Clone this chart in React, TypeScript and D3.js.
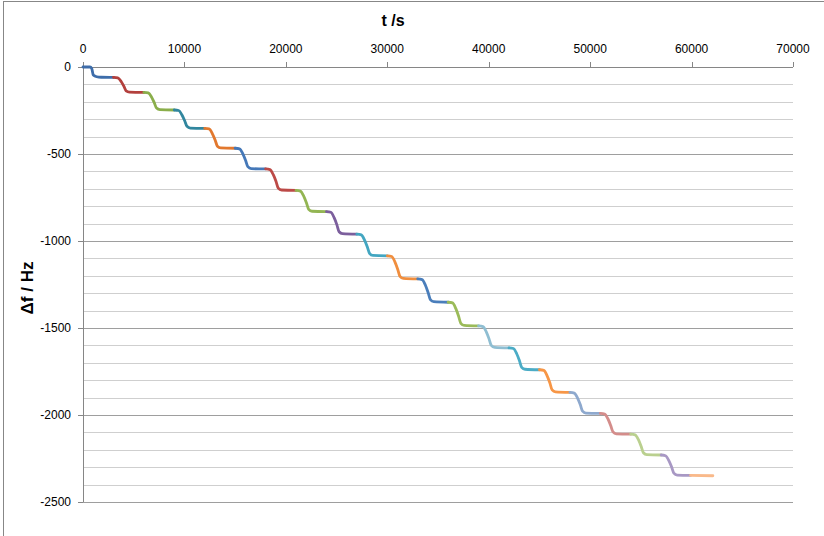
import React from 'react';
import * as d3 from 'd3';

// t (s), Δf (Hz)
const seg01: [number, number][] = [[0, 0], [690, 0], [860, -8], [1015, -46], [1350, -56], [1800, -59], [3000, -60]];
const seg02: [number, number][] = [[3000, -60], [3430, -63], [3760, -83], [4025, -110], [4250, -137], [4580, -144], [6000, -146]];
const seg03: [number, number][] = [[6000, -146], [6430, -149], [6760, -173], [7025, -205], [7250, -236], [7580, -245], [9000, -247]];
const seg04: [number, number][] = [[9000, -247], [9430, -250], [9760, -276], [10025, -309], [10250, -341], [10580, -351], [12000, -353]];
const seg05: [number, number][] = [[12000, -353], [12430, -356], [12760, -384], [13025, -419], [13250, -455], [13580, -465], [15000, -467]];
const seg06: [number, number][] = [[15000, -467], [15430, -471], [15760, -499], [16025, -536], [16250, -573], [16580, -584], [18000, -586]];
const seg07: [number, number][] = [[18000, -586], [18430, -590], [18760, -619], [19025, -657], [19250, -696], [19580, -707], [21000, -709]];
const seg08: [number, number][] = [[21000, -709], [21430, -713], [21760, -742], [22025, -780], [22250, -818], [22580, -829], [24000, -831]];
const seg09: [number, number][] = [[24000, -831], [24430, -835], [24760, -866], [25025, -906], [25250, -947], [25580, -958], [27000, -961]];
const seg10: [number, number][] = [[27000, -961], [27430, -965], [27760, -995], [28025, -1033], [28250, -1071], [28580, -1083], [30000, -1085]];
const seg11: [number, number][] = [[30000, -1085], [30430, -1089], [30760, -1121], [31025, -1162], [31250, -1203], [31580, -1215], [33000, -1218]];
const seg12: [number, number][] = [[33000, -1218], [33430, -1222], [33760, -1254], [34025, -1296], [34250, -1337], [34580, -1349], [36000, -1352]];
const seg13: [number, number][] = [[36000, -1352], [36430, -1356], [36760, -1389], [37025, -1431], [37250, -1473], [37580, -1485], [39000, -1488]];
const seg14: [number, number][] = [[39000, -1488], [39430, -1492], [39760, -1522], [40025, -1561], [40250, -1600], [40580, -1611], [42000, -1614]];
const seg15: [number, number][] = [[42000, -1614], [42430, -1618], [42760, -1648], [43025, -1687], [43250, -1726], [43580, -1737], [45000, -1740]];
const seg16: [number, number][] = [[45000, -1740], [45430, -1744], [45760, -1775], [46025, -1815], [46250, -1856], [46580, -1867], [48000, -1870]];
const seg17: [number, number][] = [[48000, -1870], [48430, -1874], [48760, -1903], [49025, -1940], [49250, -1978], [49580, -1989], [51000, -1991]];
const seg18: [number, number][] = [[51000, -1991], [51430, -1995], [51760, -2023], [52025, -2060], [52250, -2097], [52580, -2108], [54000, -2110]];
const seg19: [number, number][] = [[54000, -2110], [54430, -2114], [54760, -2142], [55025, -2180], [55250, -2217], [55580, -2228], [57000, -2230]];
const seg20: [number, number][] = [[57000, -2230], [57430, -2234], [57760, -2262], [58025, -2298], [58250, -2334], [58580, -2345], [59900, -2347]];
const seg21: [number, number][] = [[59900, -2347], [62100, -2349]];

const segments = [seg01, seg02, seg03, seg04, seg05, seg06, seg07, seg08, seg09, seg10, seg11, seg12, seg13, seg14, seg15, seg16, seg17, seg18, seg19, seg20, seg21];

const segColors = [
  '#3E6DAA', '#B3403D', '#8AAE4B', '#31869E', '#E2782E',
  '#4578B8', '#BC4A47', '#93B553', '#7C5F9D', '#43A6C1',
  '#F08E3E', '#4A7EBB', '#9BBB59', '#8FBED2', '#4BACC6',
  '#F79646', '#8EA9CE', '#D48D8B', '#BAD08F', '#A898C4', '#F9B98A',
];

const xTicks = [0, 10000, 20000, 30000, 40000, 50000, 60000, 70000];
const yTicks = [0, -500, -1000, -1500, -2000, -2500];
const xTitle = 't /s';
const yTitle = 'Δf / Hz';

const W = 824;
const H = 536;
const left = 83;
const right = 793;
const top = 67;
const bottom = 502;

export default function App() {
  const x = d3.scaleLinear().domain([0, 70000]).range([left, right]);
  const y = d3.scaleLinear().domain([0, -2500]).range([top, bottom]);
  const grid = y.ticks(25);
  const line = d3
    .line<[number, number]>()
    .x((d) => x(d[0]))
    .y((d) => y(d[1]))
    .curve(d3.curveMonotoneX);
  const font = "'Liberation Sans', Arial, sans-serif";

  return (
    <svg
      width={W}
      height={H}
      style={{ position: 'absolute', left: 0, top: 0, background: '#fff' }}
      fontFamily={font}
    >
      <rect x={0} y={0} width={W} height={H} fill="#fff" />
      <rect x={3.5} y={1.5} width={W + 10} height={H + 10} fill="none" stroke="#878787" strokeWidth={1} />

      {grid.map((g) => (
        <line
          key={g}
          x1={left}
          x2={right}
          y1={Math.round(y(g)) + 0.5}
          y2={Math.round(y(g)) + 0.5}
          stroke={g % 500 === 0 ? '#9E9E9E' : '#CFCFCF'}
          strokeWidth={1}
        />
      ))}

      {/* top axis */}
      <line x1={left} x2={right} y1={top + 0.5} y2={top + 0.5} stroke="#868686" />
      {xTicks.map((t) => (
        <g key={t}>
          <line x1={Math.round(x(t)) + 0.5} x2={Math.round(x(t)) + 0.5} y1={top - 5} y2={top} stroke="#868686" />
          <text x={x(t)} y={53} textAnchor="middle" fontSize={12} fill="#000">
            {t}
          </text>
        </g>
      ))}

      {/* left axis */}
      <line x1={left + 0.5} x2={left + 0.5} y1={top} y2={bottom} stroke="#868686" />
      {yTicks.map((v) => (
        <g key={v}>
          <line x1={left - 5} x2={left} y1={Math.round(y(v)) + 0.5} y2={Math.round(y(v)) + 0.5} stroke="#868686" />
          <text x={71} y={y(v)} dy="0.35em" textAnchor="end" fontSize={12} fill="#000">
            {v}
          </text>
        </g>
      ))}

      {segments.map((s, i) => (
        <path
          key={i}
          d={line(s) || ''}
          fill="none"
          stroke={segColors[i]}
          strokeWidth={2.8}
          strokeLinejoin="round"
          strokeLinecap="round"
        />
      ))}

      <text x={393} y={26} textAnchor="middle" fontSize={16} fontWeight="bold" fill="#000">
        {xTitle}
      </text>
      <text
        transform={`translate(33, 288) rotate(-90)`}
        textAnchor="middle"
        fontSize={17}
        fontWeight="bold"
        fill="#000"
      >
        {yTitle}
      </text>
    </svg>
  );
}
